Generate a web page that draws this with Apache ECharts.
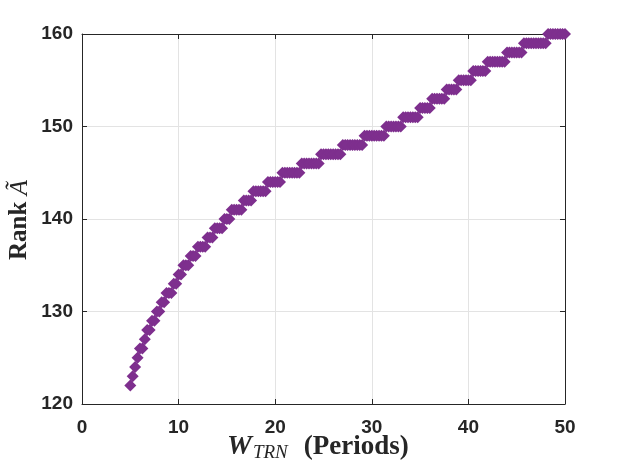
<!DOCTYPE html>
<html>
<head>
<meta charset="utf-8">
<script src="https://cdn.jsdelivr.net/npm/echarts@6/dist/echarts.min.js"></script>
<style>
  html, body { margin: 0; padding: 0; background: #fff; }
  #main { width: 624px; height: 468px; }
</style>
</head>
<body>
<div id="main"></div>
<script>
// rank level and the W_TRN value where that level first appears
var rankLevels = [122, 123, 124, 125, 126, 127, 128, 129, 130, 131,
                  132, 133, 134, 135, 136, 137, 138, 139, 140, 141,
                  142, 143, 144, 145, 146, 147, 148, 149, 150, 151,
                  152, 153, 154, 155, 156, 157, 158, 159, 160];
var rankStartX = [5, 5.25, 5.5, 5.75, 6, 6.5, 6.75, 7.25, 7.75, 8.25,
                  8.75, 9.5, 10, 10.5, 11.25, 12, 13, 13.75, 14.75, 15.5,
                  16.75, 17.75, 19.25, 20.75, 22.75, 24.75, 27, 29.25, 31.5, 33.25,
                  35, 36.25, 37.75, 39, 40.5, 42, 44, 45.75, 48.25];
// W_TRN sample points: 5 to 50 every quarter period
var wStart = 5, wEnd = 50, wStep = 0.25;

var xTicks = [0, 10, 20, 30, 40, 50];
var yTicks = [120, 130, 140, 150, 160];

var points = [];
var nSteps = Math.round((wEnd - wStart) / wStep);
for (var i = 0; i <= nSteps; i++) {
    var w = wStart + i * wStep;
    var r = rankLevels[0];
    for (var k = 0; k < rankStartX.length; k++) {
        if (rankStartX[k] <= w + 1e-9) r = rankLevels[k];
    }
    points.push([w, r]);
}

var tickFont = { fontFamily: 'Liberation Sans, Arial, sans-serif', fontWeight: 'bold', fontSize: 19, color: '#262626' };
var lineCol = '#262626';
var serif = 'Liberation Serif, DejaVu Serif, serif';

function mainAxis(opt, ticks, pos) {
    return {
        type: 'value',
        position: pos,
        min: ticks[0],
        max: ticks[ticks.length - 1],
        interval: ticks[1] - ticks[0],
        axisLine: { show: true, onZero: false, lineStyle: { color: lineCol, width: 1 } },
        axisTick: { show: true, inside: true, length: 5, lineStyle: { color: lineCol } },
        axisLabel: Object.assign({ show: true, margin: opt.margin }, tickFont),
        splitLine: { show: true, lineStyle: { color: '#e3e3e3', width: 1 } }
    };
}

function boxAxis(ticks, pos) {
    return {
        type: 'value',
        position: pos,
        min: ticks[0],
        max: ticks[ticks.length - 1],
        interval: ticks[1] - ticks[0],
        axisLine: { show: true, onZero: false, lineStyle: { color: lineCol, width: 1 } },
        axisTick: { show: true, inside: true, length: 5, lineStyle: { color: lineCol } },
        axisLabel: { show: false },
        splitLine: { show: false }
    };
}

var chart = echarts.init(document.getElementById('main'));
chart.setOption({
    animation: false,
    backgroundColor: '#fff',
    grid: { left: 82, right: 59, top: 34, bottom: 64 },
    xAxis: [
        mainAxis({ margin: 14 }, xTicks, 'bottom'),
        boxAxis(xTicks, 'top')
    ],
    yAxis: [
        mainAxis({ margin: 9 }, yTicks, 'left'),
        boxAxis(yTicks, 'right')
    ],
    graphic: [
        {
            type: 'text',
            left: 227,
            top: 433,
            style: {
                text: '{w|W}{s|TRN}{p|(Periods)}',
                rich: {
                    w: { fontFamily: serif, fontStyle: 'italic', fontWeight: 'bold', fontSize: 28, fill: '#262626' },
                    s: { fontFamily: serif, fontStyle: 'italic', fontSize: 19, fill: '#262626', padding: [12, 16, 0, 1] },
                    p: { fontFamily: serif, fontWeight: 'bold', fontSize: 27, fill: '#262626' }
                }
            }
        },
        {
            type: 'text',
            x: 20,
            y: 220,
            rotation: Math.PI / 2,
            style: {
                text: '{r|Rank }{a|Ã}',
                align: 'center',
                verticalAlign: 'middle',
                rich: {
                    r: { fontFamily: serif, fontWeight: 'bold', fontSize: 25, fill: '#262626' },
                    a: { fontFamily: serif, fontStyle: 'italic', fontSize: 25, fill: '#262626' }
                }
            }
        }
    ],
    series: [
        {
            type: 'scatter',
            data: points,
            symbol: 'diamond',
            symbolSize: [12, 12],
            itemStyle: { color: '#7E2F8E', opacity: 1 },
            clip: false
        }
    ]
});
</script>
</body>
</html>
